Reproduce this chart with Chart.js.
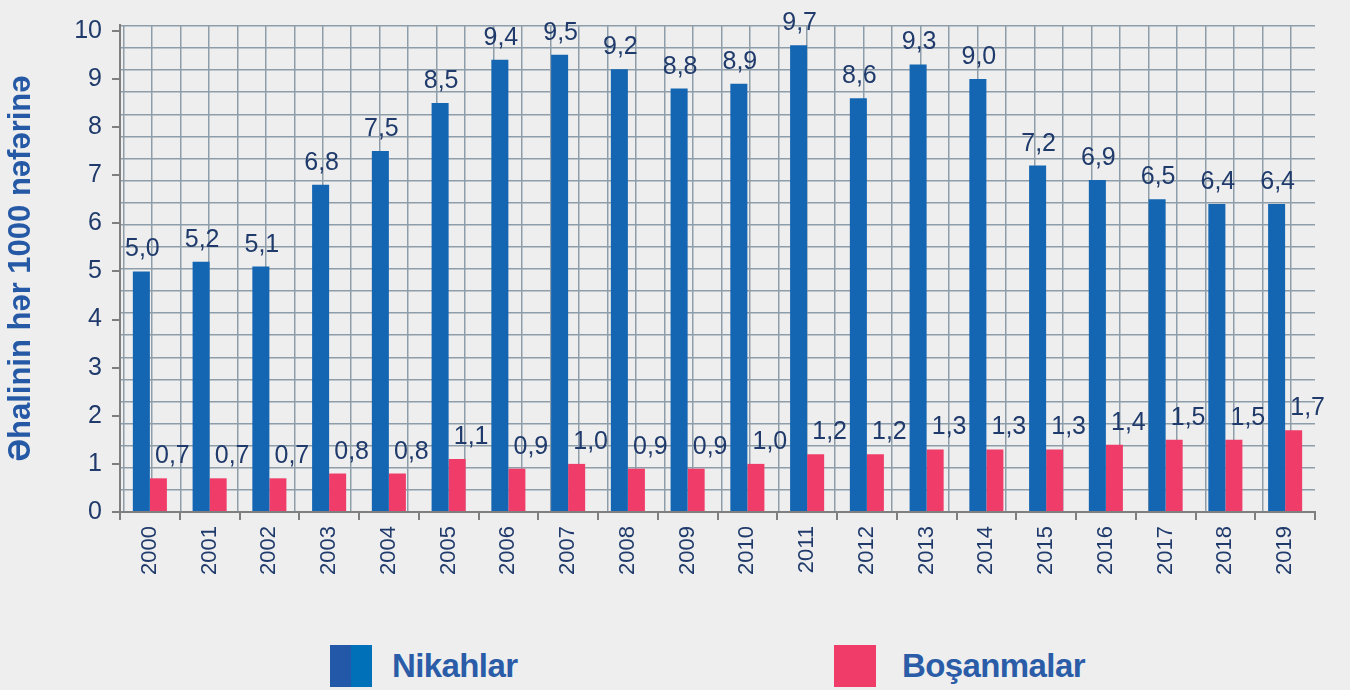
<!DOCTYPE html>
<html>
<head>
<meta charset="utf-8">
<script src="https://cdn.jsdelivr.net/npm/chart.js@4.4.1/dist/chart.umd.min.js"></script>
<style>
  body { margin: 0; background: #eeeeee; width: 1350px; height: 690px; overflow: hidden; position: relative; }
  #wrap { position: absolute; left: 0; top: 0; width: 1350px; height: 602px; }
  .leg { position: absolute; top: 645px; height: 42px; display: flex; align-items: center;
         font-family: "Liberation Sans", Arial, sans-serif;
         font-weight: bold; font-size: 33px; color: #2a5ca8; letter-spacing: -0.6px; }
  .leg span.box { width: 42px; height: 42px; display: inline-block; }
</style>
</head>
<body>
<div id="wrap"><canvas id="marriageChart" width="1350" height="602"></canvas></div>
<div class="leg" style="left:330px"><span class="box" style="background:linear-gradient(90deg,#2358a8 50%,#0070b8 50%);margin-right:20px"></span>Nikahlar</div>
<div class="leg" style="left:834px"><span class="box" style="background:#f03c69;margin-right:26px"></span>Boşanmalar</div>
<script>
const years = ["2000","2001","2002","2003","2004","2005","2006","2007","2008","2009",
               "2010","2011","2012","2013","2014","2015","2016","2017","2018","2019"];
const nikahlar = [5.0,5.2,5.1,6.8,7.5,8.5,9.4,9.5,9.2,8.8,8.9,9.7,8.6,9.3,9.0,7.2,6.9,6.5,6.4,6.4];
const bosanmalar = [0.7,0.7,0.7,0.8,0.8,1.1,0.9,1.0,0.9,0.9,1.0,1.2,1.2,1.3,1.3,1.3,1.4,1.5,1.5,1.7];
const yTicks = [0,1,2,3,4,5,6,7,8,9,10];

const FONT = "'Liberation Sans', Arial, sans-serif";
const NAVY = "#1f3a6b";
const AXIS = "#7f7f7f";

// 막대 위 값 표시 (소수점 쉼표)
const valueLabels = {
    id: "valueLabels",
    afterDatasetsDraw(chart) {
        const ctx = chart.ctx;
        ctx.save();
        ctx.font = "25px " + FONT;
        ctx.fillStyle = NAVY;
        ctx.textAlign = "center";
        ctx.textBaseline = "alphabetic";
        chart.data.datasets.forEach((ds, di) => {
            chart.getDatasetMeta(di).data.forEach((bar, i) => {
                const txt = ds.data[i].toFixed(1).replace(".", ",");
                const dx = di === 0 ? 1 : 14;
                ctx.fillText(txt, bar.x + dx, bar.y - 15);
            });
        });
        ctx.restore();
    }
};

new Chart(document.getElementById("marriageChart"), {
    type: "bar",
    data: {
        labels: years,
        datasets: [
            {
                label: "Nikahlar",
                data: nikahlar,
                backgroundColor: function(c) {
                    const bar = c.chart.getDatasetMeta(0).data[c.dataIndex];
                    if (!bar || !bar.width) return "#1466b2";
                    const g = c.chart.ctx.createLinearGradient(bar.x - bar.width / 2, 0, bar.x + bar.width / 2, 0);
                    g.addColorStop(0, "#2358a8");
                    g.addColorStop(0.5, "#1a5fac");
                    g.addColorStop(1, "#0072ba");
                    return g;
                }
            },
            {
                label: "Boşanmalar",
                data: bosanmalar,
                backgroundColor: "#f03c69"
            }
        ]
    },
    options: {
        responsive: false,
        animation: false,
        events: [],
        categoryPercentage: 0.57,
        barPercentage: 1.0,
        layout: { padding: { left: 0, right: 35, top: 8, bottom: 0 } },
        plugins: {
            legend: { display: false },
            tooltip: { enabled: false }
        },
        scales: {
            x: {
                position: "bottom",
                grid: {
                    drawOnChartArea: false,
                    drawTicks: true,
                    tickLength: 8,
                    color: AXIS,
                    lineWidth: 2
                },
                border: { color: AXIS, width: 2 },
                ticks: {
                    minRotation: 90,
                    maxRotation: 90,
                    padding: 6,
                    color: NAVY,
                    font: { family: FONT, size: 22 }
                },
                afterFit: s => { s.height = 90; }
            },
            xg: {
                type: "linear",
                position: "top",
                min: -0.11,
                max: 40.84,
                grid: { color: "#8d9eaa", lineWidth: 1.5, drawTicks: false },
                border: { display: false },
                ticks: { display: false, stepSize: 1, includeBounds: false },
                afterFit: s => { s.height = 0; }
            },
            y: {
                position: "left",
                min: 0,
                max: 10.12,
                afterBuildTicks: axis => { axis.ticks = yTicks.map(v => ({ value: v })); },
                grid: {
                    drawOnChartArea: false,
                    tickLength: 8,
                    color: AXIS,
                    lineWidth: 2
                },
                border: { color: AXIS, width: 2 },
                ticks: {
                    padding: 10,
                    color: NAVY,
                    font: { family: FONT, size: 25 }
                },
                title: {
                    display: true,
                    text: "Əhalinin hər 1000 nəfərinə",
                    color: "#2659a5",
                    font: { family: FONT, size: 31, weight: "bold" },
                    padding: { top: 3, bottom: 0 }
                },
                afterFit: s => { s.width = 120; }
            },
            yg: {
                position: "right",
                min: 0,
                max: 22.04,
                grid: { color: "#8d9eaa", lineWidth: 1.5, drawTicks: false },
                border: { display: false },
                ticks: { display: false, stepSize: 1, includeBounds: false },
                afterFit: s => { s.width = 0; }
            }
        }
    },
    plugins: [valueLabels]
});
</script>
</body>
</html>
